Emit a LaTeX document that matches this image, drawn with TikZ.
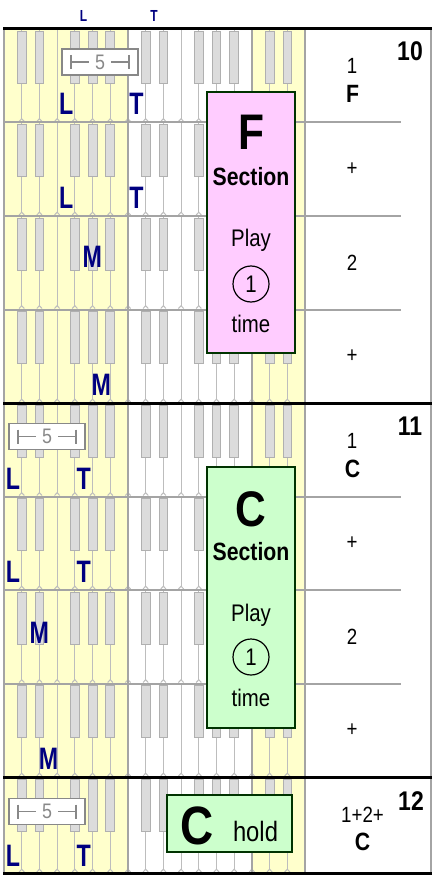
\documentclass[tikz,border=0pt]{standalone}
\usepackage{fontspec}
\setmainfont{Liberation Sans}
\newfontfamily\handf[FakeStretch=0.75]{Liberation Sans}
\newfontfamily\narf[FakeStretch=0.85]{Liberation Sans}
\definecolor{keyyellow}{HTML}{FFFFCC}
\definecolor{wline}{HTML}{BDBDBD}
\definecolor{bkfill}{HTML}{DCDCDC}
\definecolor{bkdraw}{HTML}{B0B0B0}
\definecolor{rowgray}{HTML}{A4A4A4}
\definecolor{navyc}{HTML}{000080}
\definecolor{pinkbox}{HTML}{FFCCFF}
\definecolor{greenbox}{HTML}{CCFFCC}
\definecolor{boxedge}{HTML}{003300}
\definecolor{fivegray}{HTML}{888888}
\tikzset{
  wkey/.style={draw=wline, line width=1pt},
  bkey/.style={draw=bkdraw, fill=bkfill, line width=0.8pt},
  rowline/.style={draw=rowgray, line width=2pt},
  blockline/.style={draw=black, line width=3pt},
  hand/.style={text=navyc, font=\handf\bfseries\fontsize{31}{31}\selectfont, inner sep=0pt, anchor=base},
  tophand/.style={text=navyc, font=\handf\bfseries\fontsize{16}{16}\selectfont, inner sep=0pt, anchor=base},
  barnum/.style={font=\narf\bfseries\fontsize{27}{27}\selectfont, inner sep=0pt, anchor=base},
  count/.style={font=\narf\fontsize{22}{22}\selectfont, inner sep=0pt},
  chord/.style={font=\narf\bfseries\fontsize{25}{25}\selectfont, inner sep=0pt, anchor=base},
  secbox/.style={draw=boxedge, line width=2pt, inner sep=0pt},
  bigletter/.style={font=\narf\bfseries\fontsize{50}{50}\selectfont, inner sep=0pt, anchor=base},
  sectxt/.style={font=\narf\bfseries\fontsize{25}{25}\selectfont, inner sep=0pt, anchor=base},
  playtxt/.style={font=\narf\fontsize{24}{24}\selectfont, inner sep=0pt, anchor=base},
  circ/.style={circle, draw=black, line width=1.2pt, minimum size=36pt, inner sep=0pt, font=\narf\fontsize{24}{24}\selectfont},
  fiveframe/.style={draw=fivegray, line width=1.5pt, fill=white, minimum width=76pt, minimum height=26pt, inner sep=0pt},
  fivemark/.style={draw=fivegray, line width=1.3pt},
  fivetext/.style={text=fivegray, font=\narf\fontsize{21}{21}\selectfont, inner sep=0pt},
  fivebox/.pic={
    \node[fiveframe] (-frame) at (0,0) {};
    \draw[fivemark] (-29,-7) -- (-29,7) (-29,0) -- (-11,0) (11,0) -- (29,0) (29,-7) -- (29,7);
    \node[fivetext] (-num) at (0,0) {5};
  }
}
\begin{document}
\begin{tikzpicture}[x=1pt,y=-1pt]
\useasboundingbox (0,0) rectangle (433,877);
\fill[white] (0,0) rectangle (433,877);
% yellow zones
\fill[keyyellow] (4,29) rectangle (128,873);
\fill[keyyellow] (252,29) rectangle (305,873);
% keyboard rows
\foreach \ya/\yb in {29/122.5, 122.5/216, 216/309.5, 309.5/403, 403/496.5, 496.5/590, 590/683.5, 683.5/777, 777/873} {
  \foreach \k in {1,...,16} {
    \pgfmathsetmacro\xx{4+\k*17.706}
    \draw[wkey] (\xx,\ya) -- (\xx,\yb-3.5);
    \draw[wkey] (\xx-2.6,\yb-1) -- (\xx,\yb-3.8) -- (\xx+2.6,\yb-1);
  }
  \foreach \k in {1,2,4,5,6,8,9,11,12,13,15,16} {
    \pgfmathsetmacro\xx{4+\k*17.706}
    \draw[bkey] (\xx-4.4,\ya+2) rectangle (\xx+4.4,\ya+54);
  }
}
% row separators
\foreach \yy in {122.5, 216, 309.5, 496.5, 590, 683.5} {
  \draw[rowline] (4,\yy) -- (401,\yy);
}
% vertical separators
\foreach \xv in {4, 128, 252, 305} {
  \draw[rowline] (\xv,29) -- (\xv,873);
}
\draw[draw=rowgray, line width=1.5pt] (431,29) -- (431,873);
% block lines
\foreach \yy in {29, 403, 777, 873} {
  \draw[blockline] (3,\yy) -- (432,\yy);
}
% top hand letters
\node[tophand] (topL) at (83.5,22) {L};
\node[tophand] (topT) at (154,22) {T};
% five boxes
\pic (fa) at (100,62) {fivebox};
\pic (fb) at (47,436.5) {fivebox};
\pic (fc) at (47,811.5) {fivebox};
% hand letters block 1
\node[hand] (b1r1L) at (66.3,115) {L};
\node[hand] (b1r1T) at (136.5,115) {T};
\node[hand] (b1r2L) at (66.3,208.5) {L};
\node[hand] (b1r2T) at (136.5,208.5) {T};
\node[hand] (b1r3M) at (92.3,267) {M};
\node[hand] (b1r4M) at (101.4,395) {M};
% hand letters block 2
\node[hand] (b2r1L) at (13,489) {L};
\node[hand] (b2r1T) at (83.7,489) {T};
\node[hand] (b2r2L) at (13,582.5) {L};
\node[hand] (b2r2T) at (83.7,582.5) {T};
\node[hand] (b2r3M) at (39.4,643) {M};
\node[hand] (b2r4M) at (48.5,769) {M};
% hand letters block 3
\node[hand] (b3L) at (13,866) {L};
\node[hand] (b3T) at (83.7,866) {T};
% F section box
\node[secbox, fill=pinkbox, minimum width=88pt, minimum height=261pt] (fsec) at (251,222.5) {};
\node[bigletter] (fsecF) at (251,150) {F};
\node[sectxt] (fsecS) at (251,186) {Section};
\node[playtxt] (fsecP) at (251,247) {Play};
\node[circ] (fsecO) at (251,284) {1};
\node[playtxt] (fsecT) at (251,332) {time};
% C section box
\node[secbox, fill=greenbox, minimum width=88pt, minimum height=261pt] (csec) at (251,597.5) {};
\node[bigletter] (csecC) at (251,526) {C};
\node[sectxt] (csecS) at (251,560) {Section};
\node[playtxt] (csecP) at (251,621) {Play};
\node[circ] (csecO) at (251,657) {1};
\node[playtxt] (csecT) at (251,706) {time};
% C hold box
\node[secbox, fill=greenbox, minimum width=125pt, minimum height=57pt] (chold) at (229.5,823.5) {};
\node[font=\narf\bfseries\fontsize{54}{54}\selectfont, inner sep=0pt, anchor=base] (choldC) at (197,844) {C};
\node[font=\narf\fontsize{28}{28}\selectfont, inner sep=0pt, anchor=base] (choldH) at (255.5,841) {hold};
% right column, block 1
\node[barnum] (bar10) at (410,61) {10};
\node[count, anchor=base] (c1a) at (352,74) {1};
\node[chord] (ch1) at (352.5,103) {F};
\node[count] (c1b) at (352,169) {+};
\node[count] (c1c) at (352,262.75) {2};
\node[count] (c1d) at (352,356) {+};
% right column, block 2
\node[barnum] (bar11) at (410,435) {11};
\node[count, anchor=base] (c2a) at (352,448) {1};
\node[chord] (ch2) at (352.5,477) {C};
\node[count] (c2b) at (352,543.25) {+};
\node[count] (c2c) at (352,636.75) {2};
\node[count] (c2d) at (352,730.25) {+};
% right column, block 3
\node[barnum] (bar12) at (411,810) {12};
\node[count, anchor=base] (c3a) at (362.5,822) {1+2+};
\node[chord] (ch3) at (362.5,850) {C};
\end{tikzpicture}
\end{document}
